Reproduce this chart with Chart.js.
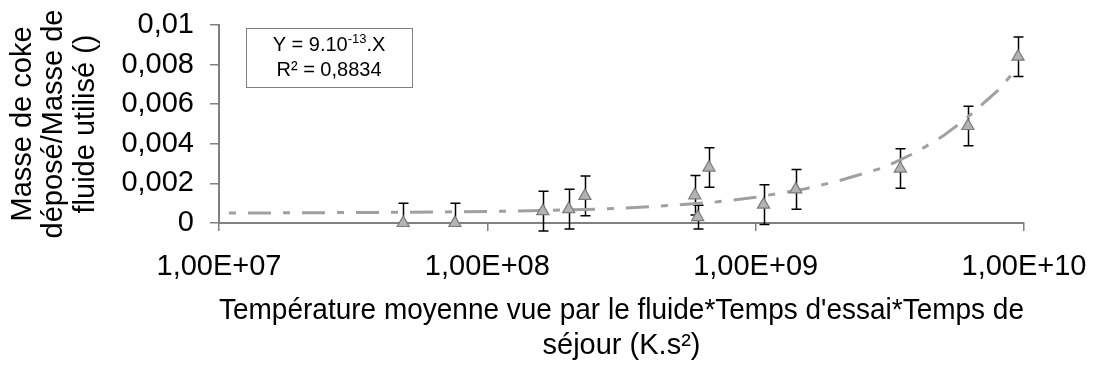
<!DOCTYPE html>
<html>
<head>
<meta charset="utf-8">
<script src="https://cdn.jsdelivr.net/npm/chart.js@4.4.1/dist/chart.umd.min.js"></script>
<style>
    html, body { margin: 0; padding: 0; background: #fff; }
    #chart { display: block; }
</style>
</head>
<body>
<canvas id="chart" width="1095" height="372"></canvas>
<script>
// measured points (x in K.s², y = coke mass / fluid mass)
const pointX = [4.86e7, 7.57e7, 1.61e8, 2.01e8, 2.31e8, 5.93e8, 6.08e8, 6.70e8, 1.07e9, 1.41e9, 3.46e9, 6.18e9, 9.5e9];
const pointY = [0, 0, 0.0006, 0.0007, 0.00137, 0.0014, 0.0003, 0.0028, 0.00093, 0.0017, 0.00275, 0.0049, 0.0084];
const errPlus = [0.001, 0.001, 0.001, 0.001, 0.001, 0.001, 0.0006, 0.001, 0.001, 0.001, 0.001, 0.001, 0.001];
const errMinus = [0, 0, 0.001, 0.001, 0.001, 0.001, 0.0006, 0.001, 0.001, 0.001, 0.001, 0.001, 0.001];

// trend line
const trendX = [1e7, 5e7, 1e8, 2e8, 3e8, 5e8, 7e8, 1e9, 1.5e9, 2e9, 3e9, 4e9, 5e9, 6e9, 7e9, 8e9, 9e9];
const trendY = [0.0005, 0.00054, 0.00058, 0.00066, 0.00073, 0.0009, 0.00105, 0.0013, 0.0017, 0.0021, 0.0028, 0.0036, 0.0044, 0.0052, 0.006, 0.0067, 0.0075];

const xTickValues = [1e7, 1e8, 1e9, 1e10];
const xTickLabels = ['1,00E+07', '1,00E+08', '1,00E+09', '1,00E+10'];
const yTickValues = [0, 0.002, 0.004, 0.006, 0.008, 0.01];
const yTickLabels = ['0', '0,002', '0,004', '0,006', '0,008', '0,01'];

const xTitle = ["Température moyenne vue par le fluide*Temps d'essai*Temps de", 'séjour (K.s²)'];
const yTitle = ['Masse de coke', 'déposé/Masse de', 'fluide utilisé ()'];

const FONT = "'Liberation Sans', Arial, sans-serif";
const AXIS_GREY = '#808080';

const errorBars = {
    id: 'errorBars',
    beforeDatasetsDraw(chart) {
        const { ctx, scales: { x, y } } = chart;
        ctx.save();
        ctx.strokeStyle = '#000';
        ctx.lineWidth = 1.5;
        pointX.forEach((px, i) => {
            const cx = Math.round(x.getPixelForValue(px)) + 0.5;
            const top = y.getPixelForValue(pointY[i] + errPlus[i]);
            const bot = y.getPixelForValue(pointY[i] - errMinus[i]);
            ctx.beginPath();
            ctx.moveTo(cx, top);
            ctx.lineTo(cx, bot);
            ctx.moveTo(cx - 5, top);
            ctx.lineTo(cx + 5, top);
            if (errMinus[i] > 0) {
                ctx.moveTo(cx - 5, bot);
                ctx.lineTo(cx + 5, bot);
            }
            ctx.stroke();
        });
        ctx.restore();
    }
};

const equationBox = {
    id: 'equationBox',
    afterDraw(chart) {
        const { ctx, chartArea } = chart;
        const bx = chartArea.left + 27, by = chartArea.top + 3, bw = 166, bh = 59;
        ctx.save();
        ctx.fillStyle = '#fff';
        ctx.fillRect(bx, by, bw, bh);
        ctx.strokeStyle = AXIS_GREY;
        ctx.lineWidth = 1;
        ctx.strokeRect(bx + 0.5, by + 0.5, bw, bh);

        const cx = bx + bw / 2;
        ctx.fillStyle = '#000';
        ctx.textBaseline = 'alphabetic';
        ctx.textAlign = 'left';
        const big = '20px ' + FONT, small = '13px ' + FONT;
        ctx.font = big;
        const w1 = ctx.measureText('Y = 9.10').width;
        const w3 = ctx.measureText('.X').width;
        ctx.font = small;
        const w2 = ctx.measureText('-13').width;
        let tx = cx - (w1 + w2 + w3) / 2;
        const base1 = by + 23;
        ctx.font = big;
        ctx.fillText('Y = 9.10', tx, base1);
        tx += w1;
        ctx.font = small;
        ctx.fillText('-13', tx, base1 - 8);
        tx += w2;
        ctx.font = big;
        ctx.fillText('.X', tx, base1);

        ctx.textAlign = 'center';
        ctx.fillText('R² = 0,8834', cx, by + 48);
        ctx.restore();
    }
};

const ctx = document.getElementById('chart').getContext('2d');
new Chart(ctx, {
    type: 'scatter',
    data: {
        datasets: [
            {
                label: 'Mesures',
                data: pointX.map((v, i) => ({ x: v, y: pointY[i] })),
                pointStyle: 'triangle',
                pointRadius: 7,
                backgroundColor: '#b3b3b3',
                borderColor: '#7a7a7a',
                borderWidth: 1.2,
                clip: false,
                order: 0
            },
            {
                label: 'Tendance',
                type: 'line',
                data: trendX.map((v, i) => ({ x: v, y: trendY[i] })),
                borderColor: '#a0a0a0',
                borderWidth: 3,
                borderDash: [23, 12, 7, 12],
                borderDashOffset: 25,
                pointRadius: 0,
                fill: false,
                tension: 0,
                order: 1
            }
        ]
    },
    options: {
        responsive: false,
        animation: false,
        devicePixelRatio: 1,
        layout: { padding: { top: 25, right: 71, bottom: 0, left: 0 } },
        plugins: {
            legend: { display: false },
            tooltip: { enabled: false }
        },
        scales: {
            x: {
                type: 'logarithmic',
                min: 1e7,
                max: 1e10,
                afterBuildTicks: s => { s.ticks = xTickValues.map(v => ({ value: v })); },
                afterFit: s => {
                    s.height = 149;
                    s.paddingLeft = 0;
                    s.paddingRight = 0;
                },
                grid: { drawOnChartArea: false, drawTicks: true, tickLength: 8, color: AXIS_GREY, lineWidth: 1.5 },
                border: { display: true, color: AXIS_GREY, width: 2 },
                ticks: {
                    autoSkip: false,
                    maxRotation: 0,
                    padding: 19,
                    color: '#000',
                    font: { family: FONT, size: 29 },
                    callback: (v, i) => xTickLabels[i]
                },
                title: {
                    display: true,
                    text: xTitle,
                    color: '#000',
                    font: { family: FONT, size: 29, lineHeight: 1.2 },
                    padding: { top: 0, bottom: 9 }
                }
            },
            y: {
                min: 0,
                max: 0.01,
                afterBuildTicks: s => { s.ticks = yTickValues.map(v => ({ value: v })); },
                afterFit: s => {
                    s.width = 219;
                    s.paddingTop = 0;
                    s.paddingBottom = 0;
                },
                grid: { drawOnChartArea: false, drawTicks: true, tickLength: 9, color: AXIS_GREY, lineWidth: 1.5 },
                border: { display: true, color: AXIS_GREY, width: 2 },
                ticks: {
                    padding: 16,
                    color: '#000',
                    font: { family: FONT, size: 29 },
                    callback: (v, i) => yTickLabels[i]
                },
                title: {
                    display: true,
                    text: yTitle,
                    color: '#000',
                    font: { family: FONT, size: 29, lineHeight: 1.09 },
                    padding: { top: 7, bottom: 0 }
                }
            }
        }
    },
    plugins: [errorBars, equationBox]
});
</script>
</body>
</html>
